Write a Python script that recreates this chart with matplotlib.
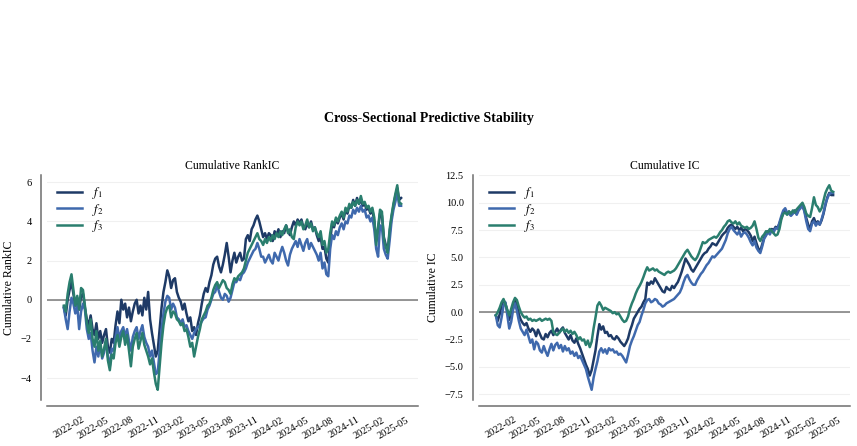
import matplotlib
matplotlib.use('Agg')
import matplotlib.pyplot as plt
import matplotlib.dates as mdates
import pandas as pd

# weekly observation dates
dates = pd.date_range('2022-01-14', periods=177, freq='7D')

# cumulative RankIC per factor
rank_f1 = [-0.4, -0.8, 0.0, 0.5, 0.9, 0.3, -0.3, 0.1, -0.5, 0.2,
           0.3, -0.4, -1.0, -1.3, -0.8, -1.5, -1.8, -1.2, -2.0, -1.6,
           -2.2, -1.8, -1.5, -2.4, -2.7, -2.0, -2.2, -1.3, -0.6, -1.2,
           0.0, -0.5, -0.2, -0.9, -0.4, -1.1, -0.6, -0.2, 0.0, -0.7,
           -0.3, -0.8, 0.1, -0.5, 0.4, -1.0, -1.7, -2.3, -2.9, -2.6,
           -1.5, -0.4, 0.4, 0.9, 1.5, 1.2, 0.6, 1.0, 1.1, 0.4,
           0.1, -0.1, -0.5, -0.2, -0.7, -1.1, -0.9, -1.6, -1.4, -1.8,
           -1.2, -0.8, -0.2, 0.3, 0.6, 0.4, 0.9, 1.25, 1.8, 2.1,
           2.2, 1.7, 1.4, 1.8, 2.3, 2.9, 2.2, 1.4, 2.0, 2.4,
           1.9, 2.2, 2.4, 2.0, 2.1, 3.1, 3.3, 3.0, 3.6, 3.8,
           4.1, 4.3, 4.0, 3.6, 3.2, 3.4, 3.1, 3.4, 3.3, 3.0,
           3.5, 3.3, 3.6, 3.2, 3.5, 3.4, 3.8, 3.5, 3.3, 3.7,
           4.0, 3.8, 4.1, 3.9, 4.1, 3.7, 3.6, 3.9, 3.7, 4.0,
           3.6, 3.7, 3.3, 3.0, 3.2, 2.6, 2.7, 2.1, 1.9, 3.0,
           3.9, 3.7, 4.1, 3.9, 4.2, 4.4, 4.1, 4.6, 4.4, 4.8,
           4.7, 5.1, 4.8, 5.2, 4.9, 5.1, 4.8, 4.9, 4.6, 4.7,
           4.4, 4.6, 4.0, 3.0, 3.6, 4.4, 4.3, 3.2, 2.8, 2.5,
           3.4, 4.2, 4.8, 5.3, 5.7, 5.1, 5.2]
rank_f2 = [-0.4, -1.0, -1.5, -0.6, 0.1, -0.2, -0.7, -0.3, -1.5, -0.6,
           -0.2, -0.5, -1.5, -2.0, -1.7, -2.6, -3.2, -2.4, -2.9, -2.2,
           -3.0, -2.7, -2.1, -2.9, -3.4, -2.5, -2.6, -1.9, -1.4, -2.0,
           -1.6, -1.4, -1.9, -1.5, -2.1, -2.6, -1.9, -1.6, -1.4, -2.0,
           -1.6, -1.3, -1.9, -2.2, -2.4, -2.9, -2.6, -3.2, -3.8, -3.7,
           -2.6, -1.5, -0.7, -0.1, 0.2, 0.1, -0.5, -0.2, -0.4, -0.9,
           -1.0, -1.2, -1.0, -1.4, -1.3, -1.6, -1.8, -2.0, -1.7, -1.5,
           -1.4, -1.3, -1.1, -0.95, -0.9, -0.5, -0.3, 0.0, 0.3, 0.4,
           0.75, 0.4, 0.1, 0.0, 0.3, 0.2, -0.1, 0.1, 0.5, 0.9,
           0.9, 1.1, 1.0, 1.3, 1.4, 1.6, 1.9, 2.1, 2.3, 2.5,
           2.6, 2.9, 2.6, 2.2, 2.2, 1.9, 2.1, 2.3, 2.0, 1.85,
           2.4, 2.2, 2.0, 2.4, 2.7, 2.4, 2.0, 1.75, 2.3, 2.6,
           2.8, 3.0, 2.7, 3.1, 2.8, 2.5, 2.9, 3.1, 2.6, 2.9,
           2.7, 2.5, 2.3, 2.0, 2.4, 1.6, 1.9, 1.3, 1.2, 2.6,
           3.3, 3.1, 3.5, 3.3, 3.7, 3.9, 3.6, 4.0, 3.9, 4.3,
           4.2, 4.6, 4.4, 4.7, 4.5, 4.8, 4.5, 4.6, 4.2, 4.3,
           4.0, 4.2, 3.6, 2.6, 2.2, 3.8, 3.7, 2.6, 2.3, 2.1,
           3.0, 4.0, 4.6, 5.0, 5.5, 4.8, 4.8]
rank_f3 = [-0.3, -0.6, 0.3, 0.9, 1.3, 0.5, -0.3, 0.2, -0.5, 0.6,
           0.5, -0.3, -1.2, -1.7, -1.0, -2.0, -2.4, -1.6, -2.6, -2.1,
           -2.9, -2.5, -2.0, -3.1, -3.6, -2.8, -3.0, -2.2, -1.8, -2.4,
           -1.9, -1.6, -2.3, -1.8, -2.6, -3.4, -2.4, -2.0, -1.7, -2.5,
           -2.1, -1.7, -2.3, -2.6, -2.9, -3.3, -3.0, -3.7, -4.3, -4.6,
           -3.4, -2.2, -1.3, -0.7, -0.4, -0.3, -0.9, -0.6, -0.7, -1.0,
           -1.1, -1.3, -1.2, -1.6, -1.5, -1.9, -2.4, -2.2, -2.9, -2.4,
           -1.9, -1.5, -1.0, -0.8, -0.6, -0.3, -0.2, 0.1, 0.5, 0.75,
           0.9, 0.6, 0.8, 1.0, 0.9, 0.6, 0.5, 0.3, 0.8, 1.1,
           1.0, 1.2, 1.3, 1.4, 1.6, 2.0, 2.4, 2.6, 2.8, 3.0,
           3.2, 3.4, 3.1, 3.0, 2.8, 3.1, 2.9, 3.2, 3.0, 3.3,
           3.1, 3.4, 3.2, 3.5, 3.3, 3.6, 3.8, 3.4, 3.6, 3.2,
           3.1, 3.7, 4.0, 3.8, 4.0, 3.6, 3.8, 4.1, 3.7, 3.9,
           3.5, 3.7, 3.4, 3.2, 3.5, 2.8, 3.0, 2.4, 2.6, 3.4,
           4.0, 3.8, 4.2, 4.0, 4.3, 4.5, 4.2, 4.7, 4.5, 4.9,
           4.7, 5.0, 4.8, 5.1, 4.9, 5.3, 4.9, 5.0, 4.7, 4.8,
           4.5, 4.7, 4.2, 2.8, 3.7, 4.6, 4.5, 3.1, 2.7, 2.4,
           3.6, 4.3, 4.9, 5.4, 5.85, 5.0, 4.9]

# cumulative IC per factor
ic_f1 = [-0.3, -0.8, -0.2, 0.6, 1.1, 0.8, 0.1, -0.7, 0.0, 0.5,
         1.1, 0.6, -0.2, -0.7, -1.0, -1.2, -1.0, -1.5, -1.8, -1.5,
         -1.7, -2.2, -1.6, -2.0, -2.4, -2.5, -2.0, -2.3, -1.9, -1.7,
         -2.1, -1.8, -1.5, -1.9, -1.6, -1.4, -1.9, -2.2, -2.5, -2.1,
         -2.6, -2.8, -2.4, -2.9, -3.3, -3.8, -4.3, -4.8, -5.2, -5.8,
         -5.3, -4.4, -3.5, -2.2, -1.1, -1.6, -1.3, -1.9, -1.8, -2.2,
         -2.1, -2.4, -2.5, -2.2, -2.4, -2.7, -2.9, -3.1, -2.8, -2.4,
         -1.7, -1.2, -0.6, -0.3, 0.0, 0.3, 0.5, 0.9, 1.2, 2.7,
         2.5, 2.8, 2.6, 3.1, 2.8, 2.5, 2.2, 1.9, 1.8, 2.3,
         2.1, 2.0, 2.4, 2.2, 2.5, 2.75, 3.2, 3.7, 4.3, 4.9,
         4.6, 4.3, 3.9, 3.7, 4.0, 4.3, 4.6, 4.9, 5.2, 5.4,
         5.5, 5.8, 6.0, 6.3, 6.2, 6.1, 6.4, 6.7, 7.0, 7.2,
         7.35, 7.7, 7.9, 8.0, 7.8, 7.6, 7.8, 7.5, 7.7, 7.4,
         7.6, 7.5, 7.3, 7.0, 6.5, 6.9, 6.3, 5.8, 5.6, 6.2,
         6.8, 7.1, 7.4, 7.3, 7.6, 7.5, 7.8, 7.7, 8.1, 8.6,
         9.1, 9.3, 9.0, 9.2, 8.9, 9.1, 9.3, 9.0, 9.4, 9.6,
         9.7, 9.3, 8.6, 8.0, 7.6, 8.3, 8.6, 8.1, 8.3, 8.0,
         8.4, 9.0, 9.8, 10.5, 10.9, 10.7, 10.7]
ic_f2 = [-0.3, -1.2, -1.4, -0.5, 0.6, 0.9, -0.3, -1.5, -0.9, 0.2,
         0.8, 0.1, -0.8, -1.5, -1.8, -2.1, -1.6, -2.2, -2.8, -2.5,
         -3.4, -2.7, -2.9, -3.5, -3.7, -3.1, -3.6, -4.0, -3.4, -2.9,
         -3.5, -3.0, -2.8, -3.3, -3.0, -3.6, -3.1, -3.5, -3.3, -3.8,
         -3.6, -4.0, -3.7, -4.2, -4.0, -4.4, -4.8, -5.2, -5.9, -6.5,
         -7.1, -6.0, -5.2, -4.5, -3.6, -3.3, -3.7, -3.4, -3.8, -3.3,
         -3.5, -3.4, -3.7, -3.6, -3.9, -3.8, -4.0, -4.3, -4.6, -3.9,
         -3.1, -2.6, -2.2, -1.7, -1.2, -0.9, -0.3, 0.2, 0.8, 1.1,
         1.2, 0.9, 1.0, 1.2, 1.1, 0.8, 0.7, 0.5, 0.6, 0.8,
         0.9, 1.0, 1.1, 1.2, 1.4, 1.6, 1.8, 2.2, 2.75, 3.2,
         3.4, 3.0, 2.7, 2.5, 2.5, 2.9, 3.2, 3.5, 3.7, 4.0,
         4.3, 4.5, 4.8, 5.1, 5.0, 5.2, 5.4, 5.6, 5.8, 6.2,
         6.6, 7.2, 7.6, 7.8, 7.5, 7.3, 7.1, 7.4, 6.9, 7.2,
         7.3, 7.1, 6.8, 6.4, 6.1, 6.5, 5.9, 5.6, 5.4, 6.0,
         6.7, 7.0, 7.3, 7.1, 7.5, 7.3, 7.7, 7.6, 8.2, 8.8,
         9.3, 9.5, 9.1, 9.0, 8.8, 9.0, 9.2, 8.9, 9.3, 9.5,
         9.8, 9.2, 8.3, 7.6, 7.4, 8.1, 8.3, 7.9, 8.2, 8.0,
         8.5, 9.1, 9.9, 10.4, 10.8, 10.9, 10.9]
ic_f3 = [-0.3, 0.0, 0.4, 0.9, 1.2, 0.7, 0.2, -0.3, 0.3, 0.9,
         1.3, 1.1, 0.5, 0.0, -0.3, -0.5, -0.4, -0.7, -0.6, -0.8,
         -0.7, -0.8, -0.7, -0.6, -0.8, -0.7, -0.6, -0.7, -0.6, -0.8,
         -1.8, -2.0, -2.1, -1.9, -1.7, -1.5, -1.8, -1.6, -1.9, -1.7,
         -2.0, -1.8, -2.1, -2.5, -2.3, -2.6, -2.5, -3.0, -2.6, -3.2,
         -2.7, -1.5, -0.5, 0.6, 0.9, 0.6, 0.2, 0.4, 0.3, 0.2,
         0.1, -0.1, 0.0, -0.2, -0.1, -0.4, -0.7, -0.9, -0.8, -0.4,
         0.3, 0.8, 1.2, 1.7, 2.1, 2.4, 2.75, 3.2, 3.7, 4.1,
         3.8, 3.9, 4.0, 3.8, 3.9, 3.7, 3.6, 3.5, 3.4, 3.6,
         3.7, 3.6, 3.7, 3.8, 4.0, 4.3, 4.6, 4.9, 5.2, 5.5,
         5.7, 5.4, 5.1, 4.9, 4.75, 5.0, 5.4, 5.9, 6.4, 6.3,
         6.4, 6.6, 6.7, 6.8, 6.9, 6.8, 7.0, 7.3, 7.5, 7.8,
         8.0, 8.3, 8.4, 8.2, 8.1, 8.3, 8.0, 8.2, 7.9, 7.8,
         7.7, 7.8, 7.6, 7.7, 7.9, 8.3, 7.6, 6.8, 6.5, 6.9,
         7.1, 7.4, 7.3, 7.6, 7.4, 7.2, 7.0, 7.1, 7.6, 8.5,
         9.0, 9.1, 8.9, 9.2, 9.0, 9.3, 9.1, 9.4, 9.6, 9.8,
         10.0, 9.6, 9.0, 8.8, 8.7, 9.5, 10.5, 9.8, 9.6, 9.2,
         9.5, 10.2, 10.9, 11.3, 11.6, 11.1, 11.0]

labels = ['$f_1$', '$f_2$', '$f_3$']
colors = ['#1e3a66', '#3f69ad', '#2a7e6e']

plt.rcParams['font.family'] = 'serif'
plt.rcParams['font.serif'] = ['Liberation Serif', 'DejaVu Serif']
plt.rcParams['mathtext.fontset'] = 'stix'

fig = plt.figure(figsize=(8.57, 4.46), dpi=100)
ax1 = fig.add_axes([0.0548, 0.1031, 0.4329, 0.5045])
ax2 = fig.add_axes([0.5589, 0.1031, 0.4329, 0.5045])

panels = [(ax1, [rank_f1, rank_f2, rank_f3], 'Cumulative RankIC'),
          (ax2, [ic_f1, ic_f2, ic_f3], 'Cumulative IC')]

for ax, series, name in panels:
    for vals, lab, col in zip(series, labels, colors):
        ax.plot(dates, vals, color=col, lw=1.8, label=lab)
    ax.axhline(0, color='#7a7a7a', lw=1.1, zorder=1)
    ax.grid(axis='y', color='#f0f0f0', lw=0.8)
    ax.set_axisbelow(True)
    ax.set_title(name, fontsize=8.5, pad=4)
    ax.set_ylabel(name, fontsize=8.5)
    ax.xaxis.set_major_locator(mdates.MonthLocator(bymonth=[2, 5, 8, 11]))
    ax.xaxis.set_major_formatter(mdates.DateFormatter('%Y-%m'))
    ax.tick_params(axis='both', length=3.5, left=False, bottom=False)
    ax.tick_params(axis='y', labelsize=7.5)
    ax.tick_params(axis='x', labelsize=7.5, labelrotation=30)
    for s in ['top', 'right']:
        ax.spines[s].set_visible(False)
    for s in ['left', 'bottom']:
        ax.spines[s].set_position(('outward', 4))
        ax.spines[s].set_color('#6e6e6e')
        ax.spines[s].set_linewidth(1.1)
    ax.legend(loc='upper left', frameon=False, fontsize=9, labelspacing=0.05,
              handlelength=2.0, borderaxespad=0.4)

fig.suptitle('Cross-Sectional Predictive Stability', fontsize=10, fontweight='bold', y=0.735, va='center')

fig.savefig('out.png', dpi=100)
